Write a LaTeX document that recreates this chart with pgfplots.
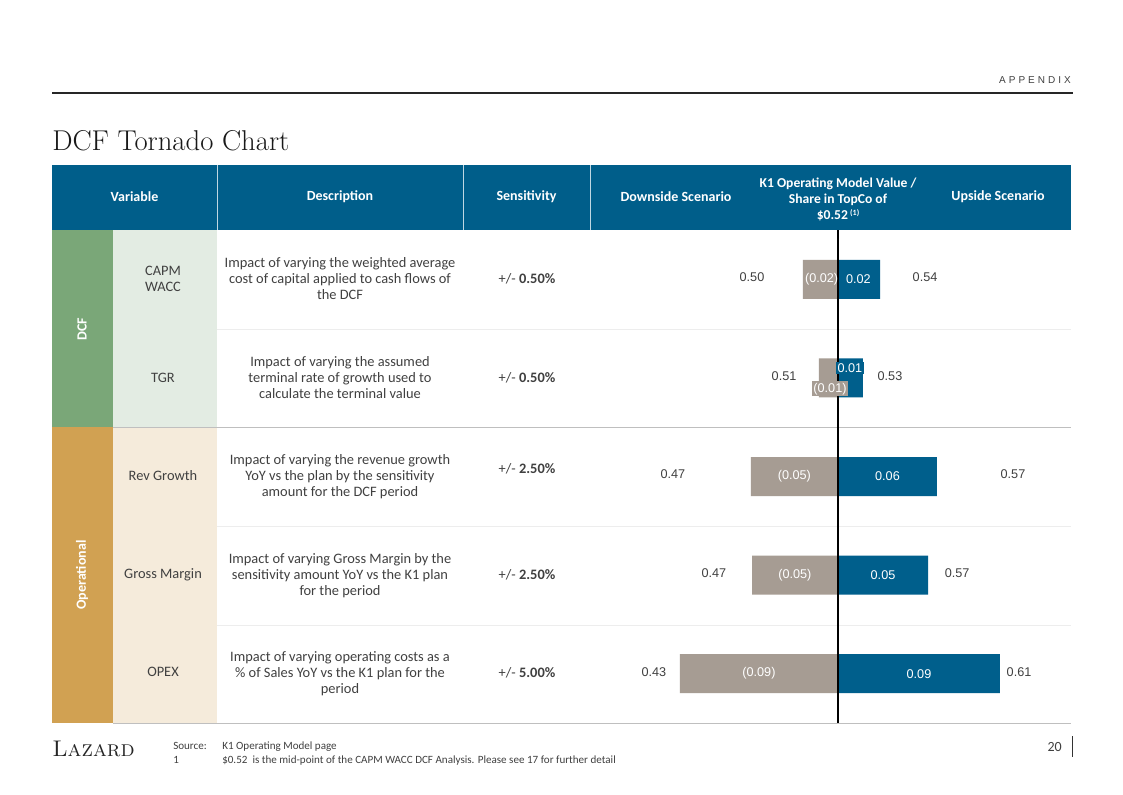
\documentclass[border=0pt]{standalone}
\usepackage{pgfplots}
\pgfplotsset{compat=1.18}
\usepackage{pgfplotstable}
\usepackage{fontspec}
\newfontfamily\body{Carlito}
\newfontfamily\arial{Liberation Sans}
\newfontfamily\appfont[LetterSpace=30]{Liberation Sans}

\definecolor{hdrblue}{RGB}{0,94,138}
\definecolor{barblue}{RGB}{0,95,140}
\definecolor{bargray}{RGB}{166,156,147}
\definecolor{dcfgreen}{RGB}{122,167,120}
\definecolor{dcflight}{RGB}{227,236,227}
\definecolor{optan}{RGB}{209,161,82}
\definecolor{oplight}{RGB}{245,235,219}
\definecolor{txt}{RGB}{64,64,64}

% bar lengths, one row per variable (1 = CAPM WACC ... 5 = OPEX)
\pgfplotstableread{
row down up
1 -0.0197 0.0236
2 -0.0107 0.0140
3 -0.0489 0.0556
4 -0.0483 0.0506
5 -0.0888 0.0910
}\bars

% labels inside the bars (at bar mid-points)
\pgfplotstableread{
row x lab
1 -0.0092 (0.02)
1 0.0115 0.02
3 -0.0245 (0.05)
3 0.0278 0.06
4 -0.0242 (0.05)
4 0.0253 0.05
5 -0.0444 (0.09)
5 0.0455 0.09
}\inlabels

% downside / upside scenario values
\pgfplotstableread{
row x lab
1 -0.0483 0.50
1 0.0489 0.54
2 -0.0303 0.51
2 0.0292 0.53
3 -0.0927 0.47
3 0.0983 0.57
4 -0.0697 0.47
4 0.0669 0.57
5 -0.1034 0.43
5 0.1017 0.61
}\scen

\begin{document}
\begin{tikzpicture}
\begin{scope}[x=0.75pt,y=-0.75pt]
\fill[white] (0,0) rectangle (1123,794);
% page header
\node[anchor=base east, inner sep=0, font=\appfont\fontsize{7.5}{9}\selectfont, text=txt] at (1071,83) {APPENDIX};
\draw[line width=1pt, black!85] (52,93) -- (1073,93);
\node[anchor=base west, inner sep=0, font=\fontsize{21.5}{25}\selectfont, text=black!90] at (52,150) {DCF Tornado Chart};

% table header
\fill[hdrblue] (52,165) rectangle (1071,230);
\draw[white!75!hdrblue, line width=0.75pt] (217,165)--(217,230) (463,165)--(463,230) (590,165)--(590,230);
\begin{scope}[every node/.style={text=white, font=\body\bfseries\fontsize{10.5}{12}\selectfont, align=center}]
\node at (134.5,197) {Variable};
\node at (340,197) {Description};
\node at (526.5,197) {Sensitivity};
\node at (676,197) {Downside Scenario};
\node[font=\body\bfseries\fontsize{10.2}{12}\selectfont] at (838,199) {K1 Operating Model Value /\\Share in TopCo of\\\$0.52\,\raisebox{0.5ex}{\fontsize{6}{7}\selectfont(1)}};
\node at (998,197) {Upside Scenario};
\end{scope}

% group and variable columns
\fill[dcfgreen] (52,230) rectangle (113,427);
\fill[dcflight] (113,230) rectangle (217,427);
\fill[optan] (52,427) rectangle (113,723);
\fill[oplight] (113,427) rectangle (217,723);
\node[rotate=90, text=white, font=\body\bfseries\fontsize{10.5}{12}\selectfont] at (82,329) {DCF};
\node[rotate=90, text=white, font=\body\bfseries\fontsize{10.5}{12}\selectfont] at (82,575) {Operational};

% row rules
\draw[black!7, line width=0.75pt] (217,329)--(1071,329) (217,526)--(1071,526) (217,625)--(1071,625);
\draw[black!25, line width=0.75pt] (113,427)--(1071,427) (113,723)--(1071,723);

\begin{scope}[every node/.style={text=txt, font=\body\fontsize{10.8}{12}\selectfont, align=center}]
\node at (163,279) {CAPM\\WACC};
\node at (163,378) {TGR};
\node at (163,476) {Rev Growth};
\node at (163,575) {Gross Margin};
\node at (163,672) {OPEX};

\node at (340,279) {Impact of varying the weighted average\\cost of capital applied to cash flows of\\the DCF};
\node at (340,378) {Impact of varying the assumed\\terminal rate of growth used to\\calculate the terminal value};
\node at (340,477) {Impact of varying the revenue growth\\YoY vs the plan by the sensitivity\\amount for the DCF period};
\node at (340,576) {Impact of varying Gross Margin by the\\sensitivity amount YoY vs the K1 plan\\for the period};
\node at (340,674) {Impact of varying operating costs as a\\\% of Sales YoY vs the K1 plan for the\\period};

\node at (527,279) {+/- \textbf{0.50\%}};
\node at (527,378) {+/- \textbf{0.50\%}};
\node at (527,469) {+/- \textbf{2.50\%}};
\node at (527,575) {+/- \textbf{2.50\%}};
\node at (527,673) {+/- \textbf{5.00\%}};
\end{scope}

% footer
\node[anchor=base west, inner sep=0, font=\fontsize{17}{20}\selectfont, text=black!85] at (52,756) {\textsc{Lazard}};
\begin{scope}[every node/.style={anchor=base west, inner sep=0, text=txt, font=\body\fontsize{8.3}{10}\selectfont}]
\node at (173,749) {Source:};
\node at (222,749) {K1 Operating Model page};
\node at (173,763) {1};
\node at (222,763) {\$0.52~ is the mid-point of the CAPM WACC DCF Analysis. Please see 17 for further detail};
\end{scope}
\node[anchor=base east, inner sep=0, text=txt, font=\body\fontsize{10.5}{12}\selectfont] at (1062,751) {20};
\draw[black!80, line width=0.75pt] (1072,736) -- (1072,757);
\end{scope}

\begin{axis}[
    at={(442.5pt,-172.5pt)}, anchor=north west,
    scale only axis, width=360.75pt, height=369.75pt,
    xmin=-0.1393, xmax=0.1309,
    ymin=0.5, ymax=5.5, y dir=reverse,
    hide axis, clip=false,
    nodes near coords align=center,
  ]
\addplot[xbar, bar shift=0pt, bar width=29.25pt, fill=bargray, draw=none] table[x=down, y=row] {\bars};
\addplot[xbar, bar shift=0pt, bar width=29.25pt, fill=barblue, draw=none] table[x=up, y=row] {\bars};

\addplot[draw=none, mark=none, nodes near coords, point meta=explicit symbolic,
  every node near coord/.append style={anchor=center, text=white, font=\arial\fontsize{9.5}{11}\selectfont}]
  table[x=x, y=row, meta=lab] {\inlabels};

% TGR labels sit in small boxes above and below the bar centre
\addplot[draw=none, mark=none, nodes near coords, point meta=explicit symbolic,
  every node near coord/.append style={anchor=center, text=white, fill=barblue, inner sep=1.2pt, font=\arial\fontsize{9.5}{11}\selectfont}]
  coordinates {(0.0067,1.90) [0.01]};
\addplot[draw=none, mark=none, nodes near coords, point meta=explicit symbolic,
  every node near coord/.append style={anchor=center, text=white, fill=bargray, inner sep=1.2pt, font=\arial\fontsize{9.5}{11}\selectfont}]
  coordinates {(-0.0045,2.11) [(0.01)]};

\addplot[draw=none, mark=none, nodes near coords, point meta=explicit symbolic,
  every node near coord/.append style={anchor=center, text=txt, yshift=1.5pt, font=\arial\fontsize{9.5}{11}\selectfont}]
  table[x=x, y=row, meta=lab] {\scen};

\draw[black, line width=0.8pt] (axis cs:0,0.5) -- (axis cs:0,5.5);
\end{axis}
\end{tikzpicture}
\end{document}
